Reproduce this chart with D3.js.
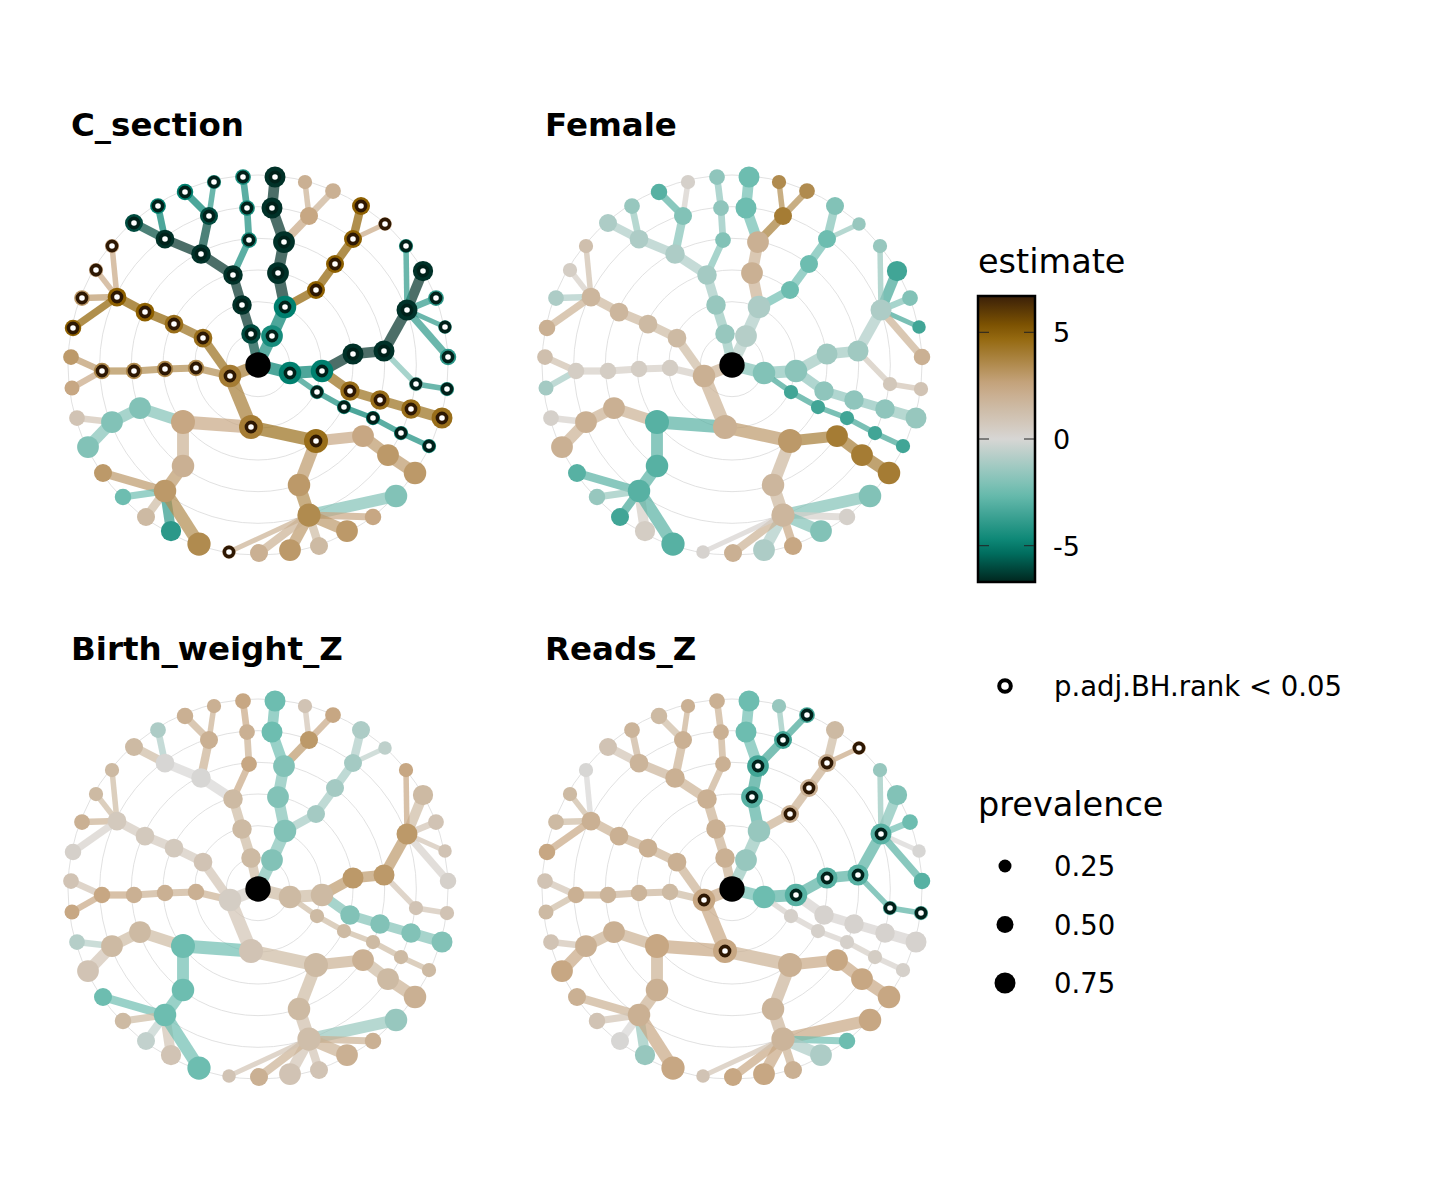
<!DOCTYPE html>
<html>
<head>
<script src="https://d3js.org/d3.v7.min.js"></script>
<style>
body { margin: 0; background: #fff; }
text { font-family: "DejaVu Sans", sans-serif; }
</style>
</head>
<body>
<svg id="chart" width="1440" height="1200"></svg>
<script>
// tree nodes: id, parent, x, y (px from panel centre, outer ring = 190), prevalence
var nodes = [
  ["root", null, 0, 0, 1.1],
  ["a1","root",-7,-31,.7],["a2","a1",-16,-60,.7],["a3","a2",-25,-90,.7],["a4","a3",-57,-111,.7],
  ["a5","a4",-93,-126,.65],["a6","a5",-124,-142,.6],["a7","a5",-100,-159,.45],["a8","a4",-49,-149,.6],
  ["a9","a8",-73,-173,.5],["a10","a8",-44,-183,.35],["a11","a3",-9,-125,.45],["a12","a11",-11,-157,.45],
  ["a13","a12",-15,-188,.45],
  ["b1","root",14,-29,.85],["b2","b1",27,-58,.9],["b3","b2",20,-92,.85],["b4","b3",26,-123,.85],
  ["b5","b4",14,-157,.8],["b6","b5",17,-188,.8],["b7","b4",51,-149,.6],["b8","b7",47,-183,.35],
  ["b9","b7",75,-174,.45],["b10","b2",58,-75,.6],["b11","b10",77,-101,.6],["b12","b11",95,-126,.6],
  ["b13","b12",103,-159,.6],["b14","b12",127,-141,.3],
  ["c1","root",32,8,.9],["c2","c1",64,6,.9],["c3","c2",95,-11,.8],["c4","c3",126,-14,.8],
  ["c5","c4",149,-55,.8],["c6","c5",165,-94,.75],["c7","c5",148,-119,.35],["c8","c5",178,-67,.45],
  ["c9","c5",187,-38,.3],["c10","c5",190,-8,.5],["c11","c4",158,19,.35],["c12","c11",189,24,.35],
  ["c13","c1",59,27,.35],["c14","c13",86,42,.35],["c15","c14",115,53,.35],["c16","c15",143,68,.35],
  ["c17","c16",171,81,.35],
  ["d1","c2",92,26,.7],["d2","d1",122,35,.7],["d3","d2",153,44,.7],["d4","d3",184,53,.8],
  ["e1","root",-28,11,.9],["e2","e1",-55,-27,.65],["e3","e2",-84,-41,.65],["e4","e3",-113,-53,.65],
  ["e5","e4",-141,-68,.65],["e6","e5",-146,-119,.35],["e7","e5",-162,-95,.35],["e8","e5",-176,-67,.45],
  ["e9","e5",-185,-37,.5],["e10","e1",-62,3,.5],["e11","e10",-93,4,.5],["e12","e11",-124,6,.5],
  ["e13","e12",-156,6,.5],["e14","e13",-187,-8,.45],["e15","e13",-186,23,.4],
  ["f1","e1",-7,62,1],["f2","f1",-75,57,1],["f3","f2",-118,43,.85],["f4","f3",-146,57,.85],
  ["f5","f4",-170,82,.85],["f6","f4",-181,53,.45],["f7","f2",-75,101,.9],["f8","f7",-93,126,.9],
  ["f9","f8",-155,108,.6],["f10","f8",-135,132,.5],["f11","f8",-112,152,.6],["f12","f8",-87,166,.75],
  ["f13","f8",-59,179,.95],["f14","f1",58,76,1],["f15","f14",105,71,.85],["f16","f15",130,90,.85],
  ["f17","f16",157,108,.9],["f18","f14",41,120,.9],["f19","f18",51,150,.95],["f20","f19",138,131,.9],
  ["f21","f19",115,152,.5],["f22","f19",89,166,.85],["f23","f19",61,181,.6],["f24","f19",32,185,.85],
  ["f25","f19",1,188,.6],["f26","f19",-29,187,.3]
];

var panelNames = ["C_section", "Female", "Birth_weight_Z", "Reads_Z"];

// estimates in node order (root first, null)
var estCsection = [null,
  -6,-6.5,-6.5,-6.5,-6.5,-6,-5,-6,-5,-4,-4.5,-4.5,-4.5,
  -4.5,-5,-6.5,-6.5,-6.5,-6.5,2.5,2,2,5,5,5,5,2.5,
  -5,-5,-6.5,-6.5,-6.5,-6.5,-4,-4,-4,-4,-2,-4,-4,-4.5,-5,-4.5,-4.5,
  4.5,4.5,4.5,4.5,
  4,4.5,4.5,5,5,2.5,2.5,3,5,3.5,3.5,3.5,3.5,3,2.5,
  4,2.5,-2,-2,-2,1,2,3,3,-2.5,1.5,-4,3.5,4.5,2.5,3,3,3,3.5,-2,2.5,3,1.5,3,2,2];
var estFemale = [null,
  -1.5,-1.5,-1.2,-1,-1,-1,-1.5,-2,-3,0.3,-2,-1.7,-1.7,
  -0.8,-1,2,2,-2.5,-2.5,4,3.5,3.5,-2.5,-2.5,-2.5,-2,-1.5,
  -2,-1.8,-1.3,-1.3,-1,-3.5,-1.5,-2,-3.5,2,0.8,1,-3.5,-3.5,-3.5,-3.5,-3.5,
  -1.7,-1.7,-1.7,-1.5,
  2,1.5,1.5,1.7,1.7,1.2,0.5,-1,2,0.5,0.5,0.5,0.5,1.2,-1.2,
  2,-3,2,2,2,0.3,-3,-3,-3,-1.5,-3.5,0.5,-3,3,4,4,4,1.7,1.7,-2,0.3,-2,2.5,-1,2,0.2];
var estBirth = [null,
  1.5,1.5,1.5,0,0,1.5,-1,2,2,2,2.5,2,2.5,
  -2,-2,-2,-2,-2.5,-2.5,3,1,2.5,-1.2,-1.2,-1.2,-1,-0.6,
  1.5,1.5,3,3,3,1.5,2.5,1,1,0.3,1,1,1.5,1.5,1.5,1.5,1.5,
  -2,-2,-2,-2,
  0.5,1,0.7,0.7,0.7,1.5,1.5,2,0.3,2,2,2,2.5,1,2.5,
  1,-2.5,1.5,1.5,1,-0.8,-2.5,-2.5,-2.5,1.5,-0.5,1,-2.5,1.5,2,1.5,2,1.5,1.3,-1.5,2,2,1,1,2,1];
var estReads = [null,
  2,2,2,2,1.8,1,1.8,2,1.5,2,2,2,2,
  -1.5,-1.5,-3,-3.5,-2.5,-2.5,-3.5,-1.5,-3.5,2,2,2,1.5,2.5,
  -2.5,-3,-3,-3,-3,-2,-1.5,-2.5,0,-3,-3,-3,0.3,0.3,0.3,0.5,0.3,
  0.2,0.2,0.2,0.2,
  2.5,2,2,2,2,0,1.5,1.5,2.5,1.5,1.8,1.8,2,1,1.5,
  2.5,2.5,2,2,2.5,1,2,2,2,1,0,-1.5,2.5,2,2.5,2.5,2.5,1.8,1.8,2.5,-2.5,-1,2,2.5,2.5,1];

// nodes with p.adj.BH.rank < 0.05
var sigCsection = ["a1","a2","a3","a4","a5","a6","a7","a8","a9","a10","a11","a12","a13",
  "b1","b2","b3","b4","b5","b6","b10","b11","b12","b13","b14",
  "c1","c2","c3","c4","c5","c6","c7","c8","c9","c10","c11","c12","c13","c14","c15","c16","c17",
  "d1","d2","d3","d4","e1","e2","e3","e4","e5","e6","e7","e8","e9","e10","e11","e12","e13",
  "f1","f14","f26"];
var sigFemale = [];
var sigBirth = [];
var sigReads = ["b3","b4","b7","b9","b10","b11","b12","b14","c2","c3","c4","c5","c11","c12","e1","f1"];

var colorTicks = [5, 0, -5];
var prevTicks = [0.25, 0.50, 0.75];

var estimates = [estCsection, estFemale, estBirth, estReads];
var sigs = [sigCsection, sigFemale, sigBirth, sigReads];
var centres = [[258,365],[732,365],[258,889],[732,889]];

var color = d3.scaleLinear()
  .domain([-6.7,-5,-2.5,0,2.5,5,6.7])
  .range(["#00261e","#00806f","#6dbdb0","#d7d6d4","#c7a783","#8e6000","#3a1f08"])
  .clamp(true);
var rScale = d3.scaleLinear().domain([0,1]).range([4.5,12]);
var keyR = d3.scaleLinear().domain([0,1]).range([4.5,12.5]);
var wScale = d3.scaleLinear().domain([0,1]).range([1.5,13]);

var svg = d3.select("#chart");
var byId = {};
nodes.forEach(function(n, i){ byId[n[0]] = i; });

panelNames.forEach(function(name, pi){
  var cx = centres[pi][0], cy = centres[pi][1];
  var x = d3.scaleLinear().domain([-190,190]).range([cx-190,cx+190]);
  var y = d3.scaleLinear().domain([-190,190]).range([cy-190,cy+190]);
  var est = estimates[pi], sig = sigs[pi];
  var g = svg.append("g");

  g.append("text").attr("x", cx-187).attr("y", cy-229)
    .attr("font-size", 32.5).attr("font-weight", "bold").text(name);

  g.selectAll("circle.grid").data(d3.range(1,7)).enter().append("circle")
    .attr("cx", cx).attr("cy", cy).attr("r", function(k){ return x(k*190/6) - x(0); })
    .attr("fill", "none").attr("stroke", "#d9d9d9").attr("stroke-width", 0.8);

  var edges = nodes.filter(function(n){ return n[1] !== null; });
  g.selectAll("line.edge").data(edges).enter().append("line")
    .attr("x1", function(n){ return x(nodes[byId[n[1]]][2]); })
    .attr("y1", function(n){ return y(nodes[byId[n[1]]][3]); })
    .attr("x2", function(n){ return x(n[2]); })
    .attr("y2", function(n){ return y(n[3]); })
    .attr("stroke", function(n){ return color(est[byId[n[0]]]); })
    .attr("stroke-opacity", 0.7)
    .attr("stroke-width", function(n){ return wScale(n[4]); });

  g.selectAll("circle.node").data(nodes).enter().append("circle")
    .attr("cx", function(n){ return x(n[2]); })
    .attr("cy", function(n){ return y(n[3]); })
    .attr("r", function(n){ return n[1] === null ? 12.7 : rScale(n[4]); })
    .attr("fill", function(n, i){ return est[i] === null ? "#000" : color(est[i]); });

  var sigNodes = nodes.filter(function(n){ return sig.indexOf(n[0]) >= 0; });
  g.selectAll("circle.sig").data(sigNodes).enter().append("circle")
    .attr("cx", function(n){ return x(n[2]); })
    .attr("cy", function(n){ return y(n[3]); })
    .attr("r", 4.6)
    .attr("fill", "#fff")
    .attr("stroke", function(n){ return est[byId[n[0]]] > 0 ? "#2e1803" : "#00211a"; })
    .attr("stroke-width", 3.6);
});

// estimate colourbar
var lg = svg.append("g");
lg.append("text").attr("x", 978).attr("y", 273).attr("font-size", 33.5).text("estimate");
var barY = d3.scaleLinear().domain([6.7,-6.7]).range([296,582]);
var grad = svg.append("defs").append("linearGradient").attr("id","cbar")
  .attr("x1",0).attr("y1",0).attr("x2",0).attr("y2",1);
d3.range(0, 1.0001, 0.05).forEach(function(t){
  grad.append("stop").attr("offset", t).attr("stop-color", color(6.7 - 13.4*t));
});
lg.append("rect").attr("x", 978).attr("y", 296).attr("width", 57).attr("height", 286)
  .attr("fill", "url(#cbar)").attr("stroke", "#000").attr("stroke-width", 2.5);
colorTicks.forEach(function(v){
  lg.append("line").attr("x1", 979).attr("x2", 989).attr("y1", barY(v)).attr("y2", barY(v))
    .attr("stroke", "#222").attr("stroke-width", 1);
  lg.append("line").attr("x1", 1024).attr("x2", 1034).attr("y1", barY(v)).attr("y2", barY(v))
    .attr("stroke", "#222").attr("stroke-width", 1);
  lg.append("text").attr("x", 1053).attr("y", barY(v) + 10).attr("font-size", 27)
    .text(v < 0 ? "-" + Math.abs(v) : v);
});

// significance key
lg.append("circle").attr("cx", 1005).attr("cy", 686).attr("r", 5.8)
  .attr("fill", "#fff").attr("stroke", "#000").attr("stroke-width", 4);
lg.append("text").attr("x", 1054).attr("y", 696).attr("font-size", 27.5).text("p.adj.BH.rank < 0.05");

// prevalence key
lg.append("text").attr("x", 978).attr("y", 816).attr("font-size", 33.5).text("prevalence");
var keyY = d3.scaleLinear().domain([0.25,0.75]).range([866,983]);
prevTicks.forEach(function(p){
  lg.append("circle").attr("cx", 1005).attr("cy", keyY(p)).attr("r", keyR(p)).attr("fill", "#000");
  lg.append("text").attr("x", 1054).attr("y", keyY(p) + 10).attr("font-size", 27.5).text(p.toFixed(2));
});
</script>
</body>
</html>
